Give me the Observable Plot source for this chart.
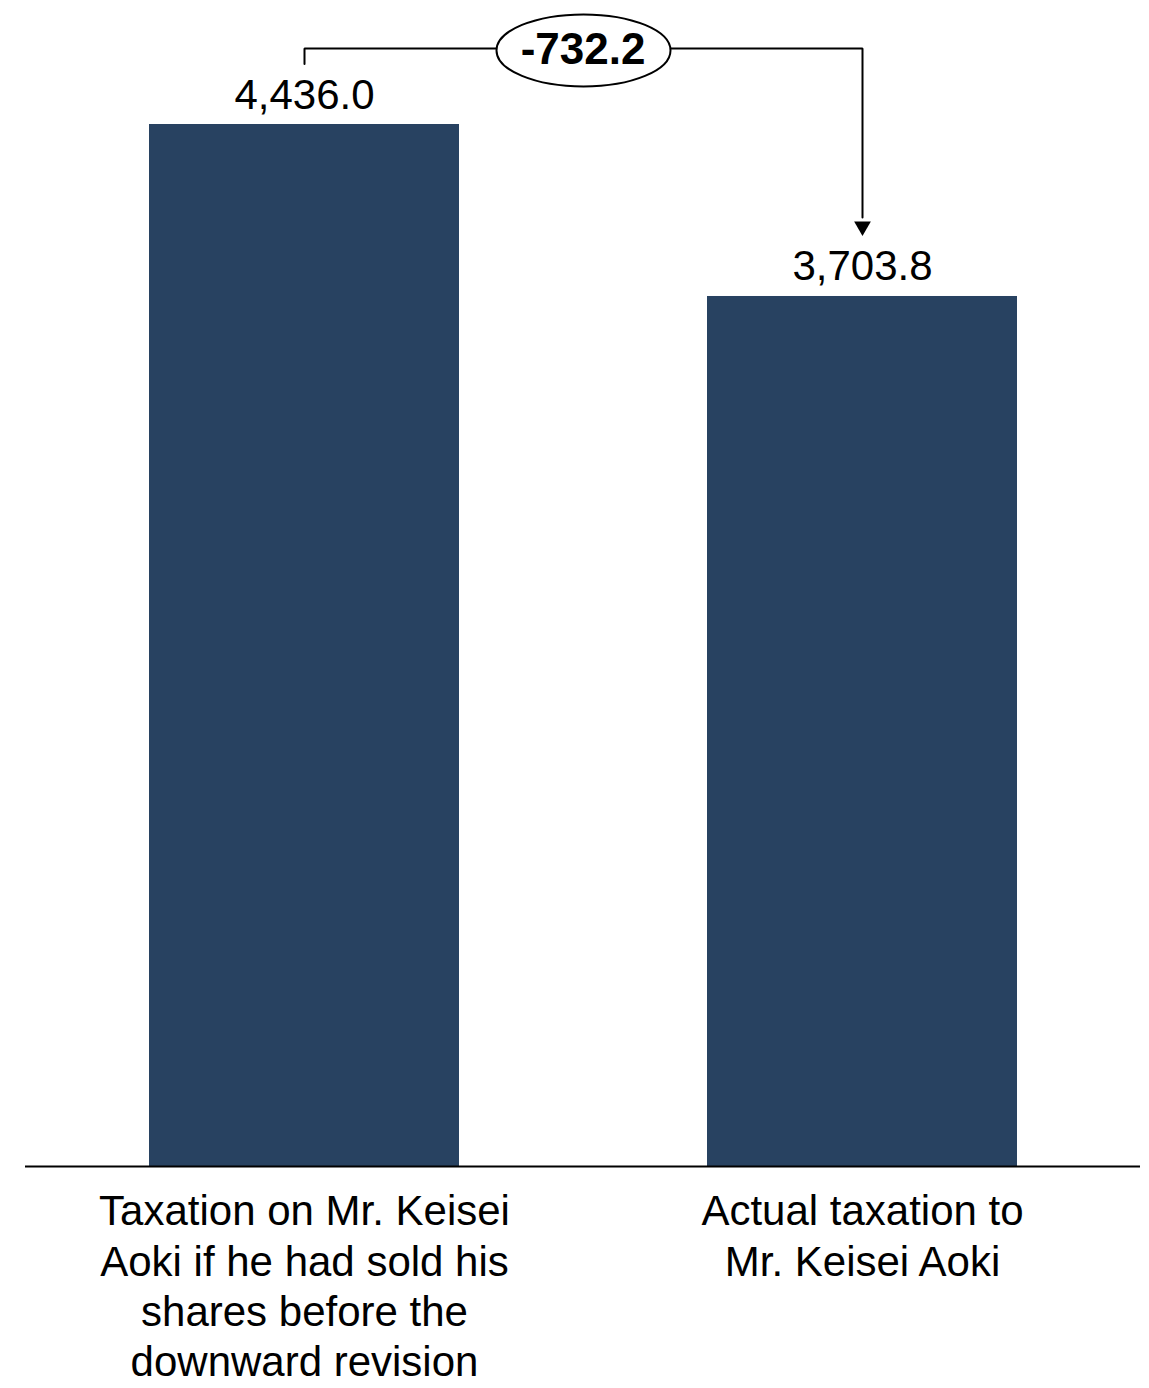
<!DOCTYPE html>
<html>
<head>
<meta charset="utf-8">
<script src="https://cdn.jsdelivr.net/npm/d3@7"></script>
<script src="https://cdn.jsdelivr.net/npm/@observablehq/plot@0.6"></script>
<style>
  html, body { margin: 0; padding: 0; background: #fff; }
  #chart svg { display: block; }
</style>
</head>
<body>
<div id="chart"></div>
<script>
// ---- data ----
const categories = [
  "Taxation on Mr. Keisei\nAoki if he had sold his\nshares before the\ndownward revision",
  "Actual taxation to\nMr. Keisei Aoki"
];
const values = [4436.0, 3703.8];
const differenceLabel = "-732.2";

// ---- annotation levels (data units) ----
const bracketY = 4760;   // horizontal connector level
const leftDrop = 4694;   // bottom of left short vertical
const arrowBase = 4040;  // where connector line meets arrow head
const arrowTip = 3962;   // arrow head anchor

const data = categories.map((c, i) => ({cat: c, value: values[i]}));
const fmt = d3.format(",.1f");
const font = "'Liberation Sans', Arial, Helvetica, sans-serif";

const connector = [
  {cat: categories[0], y: leftDrop},
  {cat: categories[0], y: bracketY},
  {cat: categories[1], y: bracketY},
  {cat: categories[1], y: arrowBase}
];

const plot = Plot.plot({
  width: 1149,
  height: 1388,
  marginTop: 124,
  marginBottom: 222,
  marginLeft: 25,
  marginRight: 9,
  style: {fontFamily: font, background: "#fff", overflow: "visible"},
  x: {domain: categories, paddingInner: 0.445, paddingOuter: 0.22, axis: null},
  y: {domain: [0, d3.max(values)], axis: null},
  marks: [
    Plot.barY(data, {x: "cat", y: "value", fill: "#284261"}),
    Plot.ruleY([0], {stroke: "#000", strokeWidth: 2}),
    Plot.text(data, {x: "cat", y: "value", text: d => fmt(d.value), lineAnchor: "bottom", dy: -16, fontSize: 42, fill: "#000"}),
    Plot.text(data, {x: "cat", y: 0, text: "cat", lineAnchor: "top", dy: 23, fontSize: 42, lineHeight: 1.2, fill: "#000"}),
    Plot.line(connector, {x: "cat", y: "y", stroke: "#000", strokeWidth: 2, strokeLinejoin: "miter"}),
    Plot.dot([{cat: categories[1], y: arrowTip}], {x: "cat", y: "y", symbol: "triangle", r: 6.2, rotate: 180, dy: -9.5, fill: "#000", stroke: "none"}),
    // centred horizontally in the frame = midpoint between the two bars
    Plot.text([differenceLabel], {y: () => bracketY, text: d => d, fontSize: 44, fontWeight: "bold", fill: "#000", lineAnchor: "middle", dy: 2})
  ]
});

document.getElementById("chart").appendChild(plot);

// ellipse behind the difference label, positioned from the plot's own scales
const xs = plot.scale("x");
const ys = plot.scale("y");
const bw = xs.bandwidth || 0;
const cx0 = xs.apply(categories[0]) + bw / 2;
const cx1 = xs.apply(categories[1]) + bw / 2;
const cx = (cx0 + cx1) / 2;
const cy = ys.apply(bracketY);
const svg = d3.select(plot);
const diffText = svg.selectAll("text").filter(function() { return this.textContent === differenceLabel; });
const node = diffText.node();
if (node) {
  const e = document.createElementNS("http://www.w3.org/2000/svg", "ellipse");
  e.setAttribute("cx", cx); e.setAttribute("cy", cy);
  e.setAttribute("rx", 87); e.setAttribute("ry", 36);
  e.setAttribute("fill", "#fff"); e.setAttribute("stroke", "#000"); e.setAttribute("stroke-width", 2);
  node.parentNode.insertBefore(e, node);
}
</script>
</body>
</html>
